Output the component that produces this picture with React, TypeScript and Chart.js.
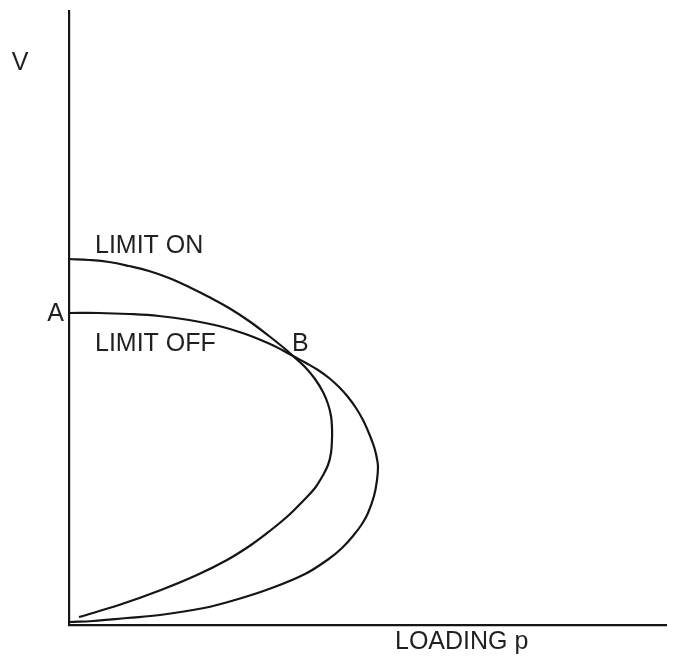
import React, { useEffect, useRef } from "react";
import { Chart, registerables } from "chart.js";

Chart.register(...registerables);

// LIMIT ON curve (loading p, voltage V) in arbitrary units
const limitOnP = [0, 20, 40, 60, 80, 100, 120, 140, 160, 180, 200, 215, 224, 236, 246, 254, 259, 262, 263, 263, 262, 259, 253, 246, 235, 220, 202, 182, 158, 128, 92, 50, 10];
const limitOnV = [366, 365, 363, 359, 354, 347, 338, 328, 317, 304, 289, 277, 269, 258, 246, 233, 221, 209, 197, 186, 172, 160, 148, 137, 125, 110, 95, 80, 65, 50, 35, 20, 8];

// LIMIT OFF curve
const limitOffP = [0, 30, 60, 90, 120, 150, 175, 200, 214, 224, 237, 249, 260, 270, 279, 287, 294, 299, 303, 306, 308, 309, 308, 305, 299, 293, 284, 273, 261, 236, 200, 166, 135, 91, 58, 24, 1];
const limitOffV = [312, 312, 311, 309, 305, 299, 291.5, 281.5, 274.5, 269, 262, 255, 247, 238, 228, 217, 205, 194, 184, 175, 166, 158, 145, 129, 112, 101, 89, 77, 67, 51, 36, 25, 17, 10, 7, 4, 3];

// Axis ranges
const pRange = [0, 597];
const vRange = [0, 614];

// Text annotations
const labelTexts = ["LIMIT ON", "LIMIT OFF", "A", "B", "V", "LOADING p"];
const labelP = [26, 26, -5, 223, -49, 326];
const labelV = [372, 274, 304, 274, 555, -24];
const labelAlign = ["left", "left", "right", "left", "center", "left"];

const toPoints = (xs: number[], ys: number[]) => xs.map((x, i) => ({ x, y: ys[i] }));

const textPlugin = {
  id: "textLabels",
  afterDraw(chart: any) {
    const ctx = chart.ctx;
    const xs = chart.scales.x;
    const ys = chart.scales.y;
    ctx.save();
    ctx.fillStyle = "#231f20";
    ctx.font = '25px "Liberation Sans", Arial, sans-serif';
    ctx.textBaseline = "alphabetic";
    labelTexts.forEach((t, i) => {
      ctx.textAlign = labelAlign[i];
      ctx.fillText(t, xs.getPixelForValue(labelP[i]), ys.getPixelForValue(labelV[i]));
    });
    ctx.restore();
  },
};

export default function App() {
  const ref = useRef<HTMLCanvasElement>(null);
  useEffect(() => {
    if (!ref.current) return;
    const lineStyle = {
      showLine: true,
      borderColor: "#151515",
      borderWidth: 2.2,
      pointRadius: 0,
      tension: 0.4,
      fill: false,
    };
    const chart = new Chart(ref.current, {
      type: "scatter",
      data: {
        datasets: [
          { label: "LIMIT ON", data: toPoints(limitOnP, limitOnV), ...lineStyle },
          { label: "LIMIT OFF", data: toPoints(limitOffP, limitOffV), ...lineStyle },
        ],
      },
      options: {
        animation: false,
        responsive: false,
        events: [],
        layout: { padding: { left: 69, top: 11, right: 8, bottom: 39 } },
        plugins: { legend: { display: false }, tooltip: { enabled: false } },
        scales: {
          x: {
            type: "linear",
            min: pRange[0],
            max: pRange[1],
            ticks: { display: false },
            grid: { display: false, drawTicks: false },
            border: { display: true, color: "#151515", width: 2.2 },
          },
          y: {
            type: "linear",
            min: vRange[0],
            max: vRange[1],
            ticks: { display: false },
            grid: { display: false, drawTicks: false },
            border: { display: true, color: "#151515", width: 2.2 },
          },
        },
      },
      plugins: [textPlugin],
    });
    return () => chart.destroy();
  }, []);
  return (
    <div style={{ position: "absolute", left: 0, top: 0, width: 674, height: 664, background: "#fff" }}>
      <canvas ref={ref} width={674} height={664} style={{ width: 674, height: 664, display: "block" }} />
    </div>
  );
}
